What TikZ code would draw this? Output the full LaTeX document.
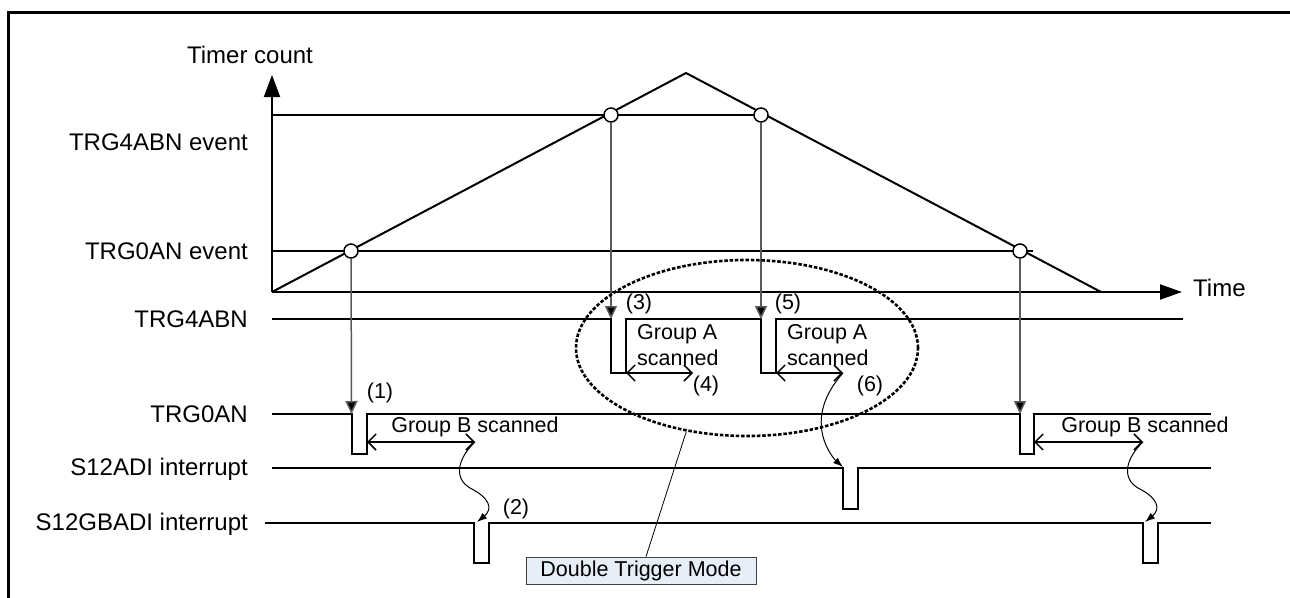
\documentclass[tikz,border=0pt]{standalone}
\usepackage{fontspec}
\setmainfont{Liberation Sans}
\usetikzlibrary{arrows.meta,shapes.geometric}
\definecolor{boxfill}{HTML}{E8EEF8}
\definecolor{guidecol}{HTML}{5A5A5A}
\begin{document}
\begin{tikzpicture}[x=1pt,y=-1pt,
  big/.style={font=\fontsize{24}{28}\selectfont, inner sep=0pt},
  small/.style={font=\fontsize{21.5}{26}\selectfont, inner sep=0pt},
  sig/.style={line width=2pt, line join=miter},
  guide/.style={draw=guidecol, line width=1.5pt, -{Triangle[width=12pt,length=13pt,fill=black]}},
  dot/.style={circle, draw, fill=white, minimum size=14pt, inner sep=0pt, line width=1.5pt},
  span/.style={line width=1.5pt, {Straight Barb[length=8pt,width=16pt]}-{Straight Barb[length=8pt,width=16pt]}},
  wavy/.style={line width=1pt, -{Latex[length=10pt,width=7pt]}},
]
\useasboundingbox (0,0) rectangle (1290,597);
% frame
\draw[line width=3.5pt] (8.7,600) -- (8.7,12.3) -- (1295,12.3);

% axes
\coordinate (O) at (272,292);
\coordinate (ytip) at (272,75);
\coordinate (xtip) at (1182,292);
\draw[line width=2pt, -{Triangle[width=16pt,length=22pt]}] (O) -- (ytip);
\draw[line width=2pt, -{Triangle[width=15pt,length=22pt]}] (O) -- (xtip);
\node[big] (tc) at (250,55) {Timer count};
\node[big, anchor=west] (tm) at (1193,288) {Time};

% counter
\coordinate (peak) at (686,73);
\coordinate (tend) at (1101,292);
\draw[line width=2pt] (O) -- (peak) -- (tend);

% event levels
\coordinate (l4) at (272,115);
\coordinate (l0) at (272,251);
\coordinate (l0e) at (1033,251);
\draw[line width=1.2pt] (l4) -- (761,115);
\draw[line width=1.2pt] (l0) -- (l0e);
\node[dot] (c1) at (351,251) {};
\node[dot] (c2) at (611,115) {};
\node[dot] (c3) at (761,115) {};
\node[dot] (c4) at (1020,251) {};
\node[big, anchor=east] (ev4) at (248,142) {TRG4ABN event};
\node[big, anchor=east] (ev0) at (248,251) {TRG0AN event};

% signal labels
\node[big, anchor=east] (s1) at (248,319) {TRG4ABN};
\node[big, anchor=east] (s2) at (248,414) {TRG0AN};
\node[big, anchor=east] (s3) at (248,469) {S12ADI interrupt};
\node[big, anchor=east] (s4) at (248,524) {S12GBADI interrupt};

% waveforms
\draw[sig] (272,319) -- (611,319) -- (611,373) -- (626,373) -- (626,319) -- (761,319) -- (761,373) -- (776,373) -- (776,319) -- (1183,319);
\draw[sig] (272,414) -- (352,414) -- (352,454) -- (367,454) -- (367,414) -- (1020,414) -- (1020,454) -- (1034,454) -- (1034,414) -- (1211,414);
\draw[sig] (272,468) -- (843,468) -- (843,509) -- (858,509) -- (858,468) -- (1211,468);
\draw[sig] (265,523) -- (474,523) -- (474,563) -- (489,563) -- (489,523) -- (1143,523) -- (1143,563) -- (1158,563) -- (1158,523) -- (1211,523);

% guide arrows
\coordinate (p1) at (351.5,414);
\coordinate (p3) at (611,319);
\coordinate (p5) at (761,319);
\coordinate (p7) at (1020,414);
\draw[guide] (c1) -- (p1);
\draw[guide] (c2) -- (p3);
\draw[guide] (c3) -- (p5);
\draw[guide] (c4) -- (p7);

% scan spans
\coordinate (gb1s) at (367,442);
\coordinate (gb1e) at (475,442);
\coordinate (gb2s) at (1034,442);
\coordinate (gb2e) at (1143,442);
\coordinate (ga1s) at (626,373);
\coordinate (ga1e) at (693,373);
\coordinate (ga2s) at (776,373);
\coordinate (ga2e) at (843,373);
\draw[span] (gb1s) -- (gb1e);
\draw[span] (gb2s) -- (gb2e);
\draw[span] (ga1s) -- (ga1e);
\draw[span] (ga2s) -- (ga2e);
\node[small] (tb1) at (475,427) {Group B scanned};
\node[small] (tb2) at (1145,427) {Group B scanned};
\node[small, anchor=west, align=left] (ta1) at (637,345) {Group A\\scanned};
\node[small, anchor=west, align=left] (ta2) at (787,345) {Group A\\scanned};

% numbers
\node[small] (n1) at (380,393) {(1)};
\node[small] (n2) at (516,509) {(2)};
\node[small] (n3) at (639,304) {(3)};
\node[small] (n4) at (706,386) {(4)};
\node[small] (n5) at (788,304) {(5)};
\node[small] (n6) at (870,386) {(6)};

% wavy connectors
\coordinate (sg1) at (477,522);
\coordinate (sa1) at (843,467);
\coordinate (sg2) at (1145,522);
\draw[wavy] (gb1e) .. controls (458,458) and (453,478) .. (470,488) .. controls (490,498) and (493,509) .. (sg1);
\draw[wavy] (ga2e) .. controls (826,392) and (816,415) .. (824,440) .. controls (828,452) and (835,460) .. (sa1);
\draw[wavy] (gb2e) .. controls (1126,458) and (1121,478) .. (1138,488) .. controls (1158,498) and (1161,509) .. (sg2);

% double trigger mode
\node[ellipse, draw, line width=2.6pt, dash pattern=on 3.5pt off 1.8pt, minimum width=342pt, minimum height=176pt, inner sep=0pt] (dtm) at (747,348) {};
\node[small, draw=black!75, fill=boxfill, line width=0.8pt, minimum width=230pt, minimum height=27pt] (dtmbox) at (641,570.5) {Double Trigger Mode};
\draw[line width=0.8pt] (dtm.234) -- ([xshift=5pt]dtmbox.north);
\end{tikzpicture}
\end{document}
